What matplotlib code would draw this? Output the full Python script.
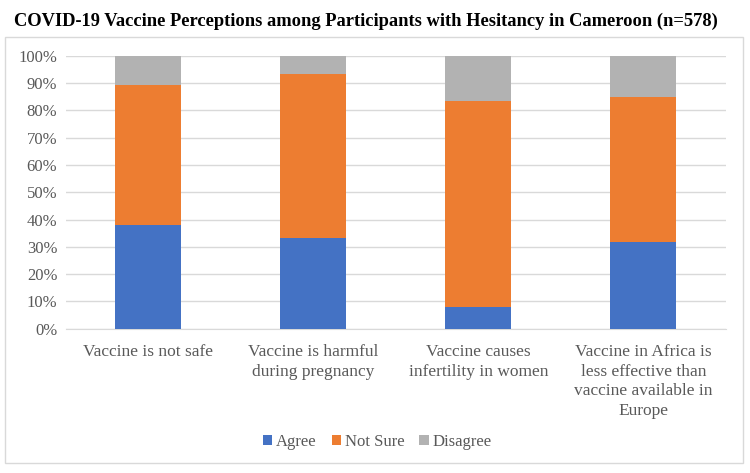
import numpy as np
import matplotlib
matplotlib.use("Agg")
import matplotlib.pyplot as plt
from matplotlib.patches import Rectangle

plt.rcParams["font.family"] = ["Liberation Serif", "DejaVu Serif"]

categories = [
    "Vaccine is not safe",
    "Vaccine is harmful\nduring pregnancy",
    "Vaccine causes\ninfertility in women",
    "Vaccine in Africa is\nless effective than\nvaccine available in\nEurope",
]
agree = [38.0, 33.2, 7.8, 31.6]
not_sure = [51.2, 60.2, 75.5, 53.3]
disagree = [10.8, 6.6, 16.7, 15.1]
series_names = ["Agree", "Not Sure", "Disagree"]
colors = ["#4472C4", "#ED7D31", "#B2B2B2"]

fig = plt.figure(figsize=(7.5, 4.73), dpi=100)
ax = fig.add_axes([0.0876, 0.305, 0.968 - 0.0876, 0.882 - 0.305])

x = np.arange(len(categories))
bottom = np.zeros(len(categories))
for vals, name, c in zip([agree, not_sure, disagree], series_names, colors):
    ax.bar(x, vals, width=0.4, bottom=bottom, color=c, label=name, zorder=3)
    bottom += np.array(vals)

ax.set_xlim(-0.5, len(categories) - 0.5)
ax.set_ylim(0, 100)
ax.set_yticks(np.arange(0, 101, 10))
ax.set_yticklabels([f"{v}%" for v in range(0, 101, 10)])
ax.set_xticks(x)
ax.set_xticklabels(categories, fontsize=12.5, color="#595959", linespacing=1.3)
ax.tick_params(axis="y", labelsize=12, labelcolor="#595959", length=0, pad=6)
ax.tick_params(axis="x", length=0, pad=11)
ax.grid(axis="y", color="#D9D9D9", linewidth=1, zorder=0)
for s in ["top", "right", "left"]:
    ax.spines[s].set_visible(False)
ax.spines["bottom"].set_color("#D9D9D9")

fig.text(0.488, 0.955, "COVID-19 Vaccine Perceptions among Participants with Hesitancy in Cameroon (n=578)",
         ha="center", va="center", fontsize=13.3, fontweight="bold", color="black")

leg = fig.legend(loc="center", bbox_to_anchor=(0.503, 0.066), ncol=3, frameon=False,
                 prop={"family": "Liberation Serif", "size": 12},
                 handlelength=0.55, handleheight=0.55, handletextpad=0.25,
                 columnspacing=0.9)
for t in leg.get_texts():
    t.set_color("#595959")
    t.set_fontfamily("Liberation Serif")

fig.patches.append(Rectangle((5 / 750, 1 - 463 / 473), 738 / 750, 426 / 473,
                             transform=fig.transFigure, fill=False,
                             edgecolor="#D9D9D9", linewidth=1))

fig.savefig("out.png", dpi=100)
